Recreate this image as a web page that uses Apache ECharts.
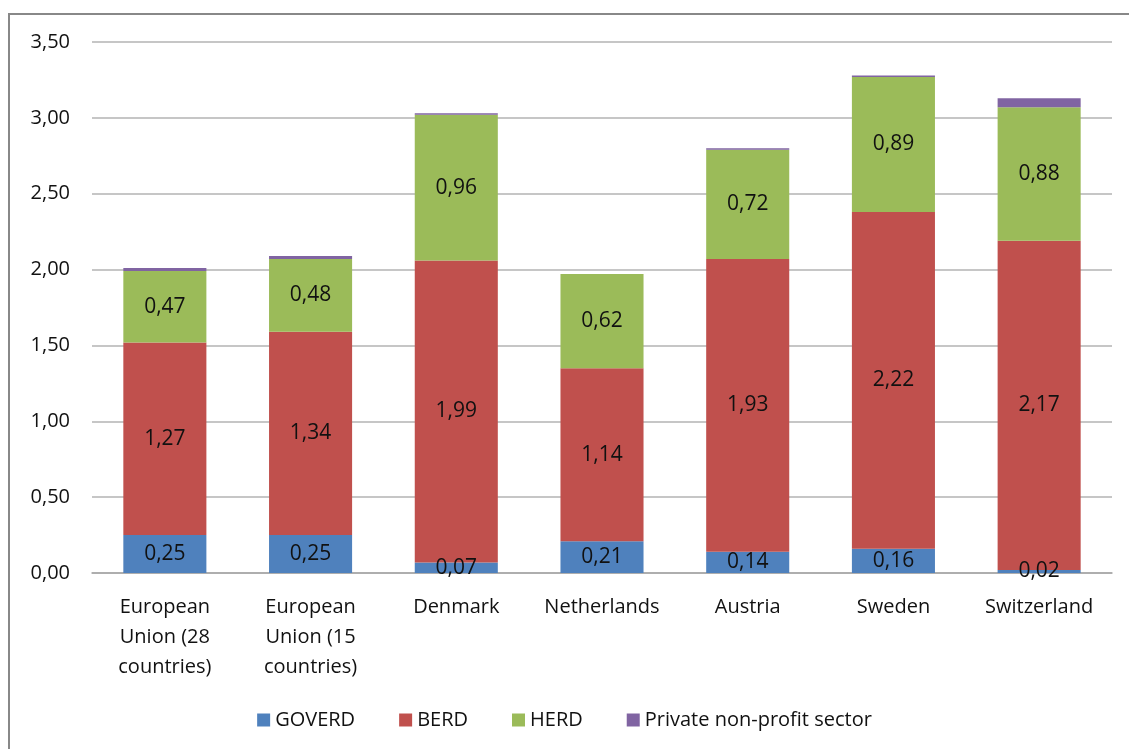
<!DOCTYPE html>
<html>
<head>
<meta charset="utf-8">
<script src="https://cdn.jsdelivr.net/npm/echarts@6/dist/echarts.min.js"></script>
<style>
html,body{margin:0;padding:0;background:#fff;}
#frame{position:absolute;left:8px;top:13px;width:1200px;height:800px;border:2px solid #888;box-sizing:border-box;}
#chart{position:absolute;left:0;top:0;width:1129px;height:749px;}
</style>
</head>
<body>
<div id="frame"></div>
<div id="chart"></div>
<script>
var categories = ['European\nUnion (28\ncountries)', 'European\nUnion (15\ncountries)', 'Denmark', 'Netherlands', 'Austria', 'Sweden', 'Switzerland'];
var goverd = [0.25, 0.25, 0.07, 0.21, 0.14, 0.16, 0.02];
var berd = [1.27, 1.34, 1.99, 1.14, 1.93, 2.22, 2.17];
var herd = [0.47, 0.48, 0.96, 0.62, 0.72, 0.89, 0.88];
var privateNp = [0.02, 0.02, 0.01, 0.00, 0.01, 0.01, 0.06];

function fmt(v){ return v.toFixed(2).replace('.', ','); }

var chart = echarts.init(document.getElementById('chart'));
var font = '"Open Sans", "Noto Sans", sans-serif';

function barSeries(name, data, color, showLabel){
  return {
    name: name,
    type: 'bar',
    stack: 'total',
    barWidth: '57%',
    data: data,
    itemStyle: {color: color},
    label: {
      show: showLabel,
      position: 'inside',
      color: '#111',
      fontFamily: font,
      fontSize: 21,
      formatter: function(p){ return fmt(p.value); }
    }
  };
}

chart.setOption({
  animation: false,
  textStyle: {fontFamily: font},
  grid: {left: 92, right: 17, top: 42, bottom: 176},
  legend: {
    bottom: 14,
    left: 'center',
    itemWidth: 13,
    itemHeight: 13,
    itemGap: 44,
    icon: 'rect',
    textStyle: {fontSize: 20, color: '#111', fontFamily: font},
    data: ['GOVERD', 'BERD', 'HERD', 'Private non-profit sector']
  },
  xAxis: {
    type: 'category',
    data: categories,
    axisTick: {show: false},
    axisLine: {lineStyle: {color: '#a6a6a6', width: 1.5}},
    axisLabel: {fontSize: 20, color: '#111', lineHeight: 30, margin: 19, interval: 0, fontFamily: font}
  },
  yAxis: {
    type: 'value',
    min: 0,
    max: 3.5,
    interval: 0.5,
    axisLine: {show: false},
    axisTick: {show: false},
    splitLine: {lineStyle: {color: '#b3b3b3', width: 1.5}},
    axisLabel: {fontSize: 20, color: '#111', margin: 22, formatter: function(v){ return fmt(v); }, fontFamily: font}
  },
  series: [
    barSeries('GOVERD', goverd, '#4F81BD', true),
    barSeries('BERD', berd, '#C0504D', true),
    barSeries('HERD', herd, '#9BBB59', true),
    barSeries('Private non-profit sector', privateNp, '#8064A2', false)
  ]
});
</script>
</body>
</html>
